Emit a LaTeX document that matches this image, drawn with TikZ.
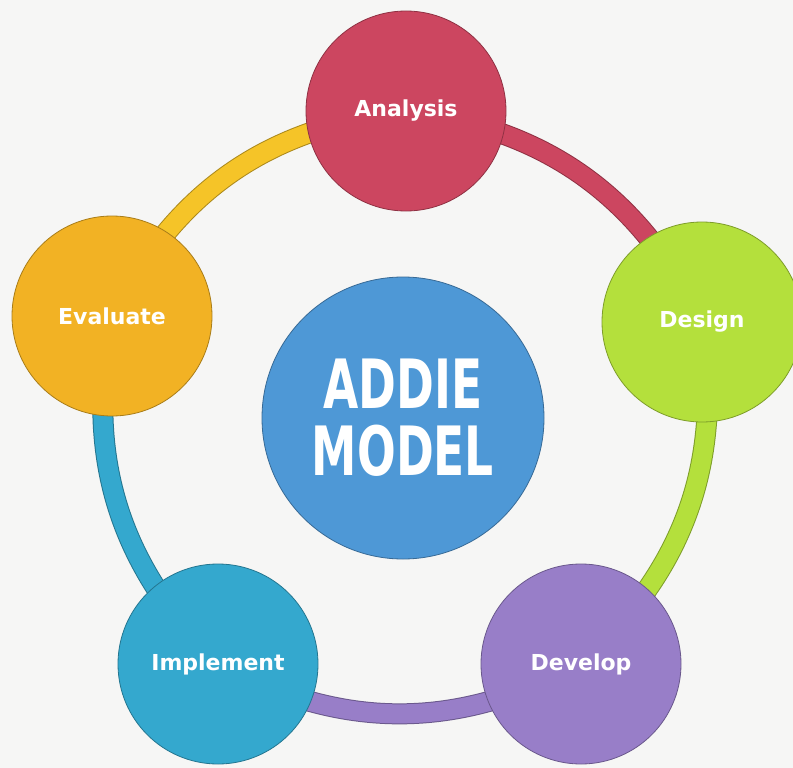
\documentclass[tikz,border=0pt]{standalone}
\usepackage{fontspec}
\setmainfont{DejaVu Sans}
\usetikzlibrary{backgrounds}
\definecolor{cRed}{RGB}{204,70,96}
\definecolor{cGreen}{RGB}{180,224,60}
\definecolor{cPurple}{RGB}{152,126,200}
\definecolor{cCyan}{RGB}{52,168,206}
\definecolor{cOrange}{RGB}{242,178,36}
\definecolor{cYellow}{RGB}{245,196,40}
\definecolor{cBlue}{RGB}{78,152,214}
\definecolor{cPaper}{RGB}{246,246,245}
\begin{document}
\begin{tikzpicture}[x=1pt,y=-1pt,
  phase/.style={circle, minimum size=200pt, inner sep=0pt, text=white, line width=0.8pt,
    fill=#1, draw=#1!70!black, font=\fontsize{22}{26}\selectfont\bfseries},
  link/.style={line width=19pt, draw=#1, preaction={draw=#1!70!black, line width=21pt}},
  centre/.style={circle, minimum size=282pt, inner sep=0pt, text=white, line width=0.8pt,
    fill=cBlue, draw=cBlue!70!black, align=center, font=\fontsize{68}{67}\selectfont\bfseries}]
\useasboundingbox (0,0) rectangle (793,768);
\node[phase=cRed] (ana) at (406,111) {Analysis};
\node[phase=cGreen] (des) at (702,322) {Design};
\node[phase=cPurple] (dev) at (581,664) {Develop};
\node[phase=cCyan] (imp) at (218,664) {Implement};
\node[phase=cOrange] (eva) at (112,316) {Evaluate};
\node[centre] (mid) at (403,418) {\scalebox{0.67}[1]{ADDIE}\\\scalebox{0.67}[1]{MODEL}};
\begin{scope}[on background layer]
\fill[cPaper] (0,0) rectangle (793,768);
\draw[link=cRed] (ana.center) to[bend left=28] (des.center);
\draw[link=cGreen] (des.center) to[bend left=28] (dev.center);
\draw[link=cPurple] (dev.center) to[bend left=28] (imp.center);
\draw[link=cCyan] (imp.center) to[bend left=28] (eva.center);
\draw[link=cYellow] (eva.center) to[bend left=28] (ana.center);
\end{scope}
\end{tikzpicture}
\end{document}
